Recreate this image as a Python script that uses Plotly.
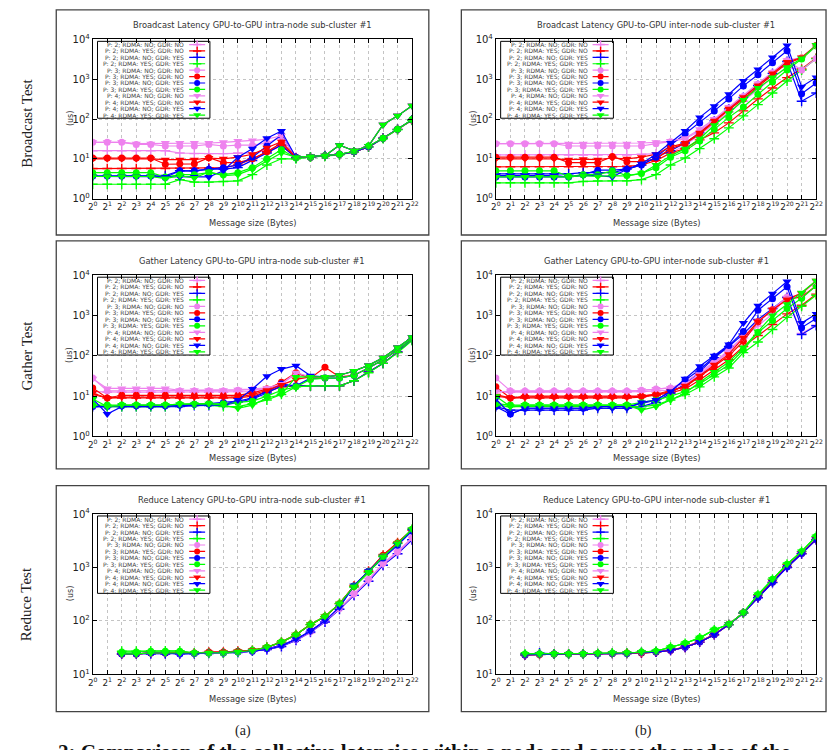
import plotly.graph_objects as go

W, H = 835, 750

# Message sizes as powers of two (exponent on the x axis)
EXPONENTS = list(range(23))
X_TICK_TEXT = [f"2<sup>{n}</sup>" for n in EXPONENTS]
Y_TICKS = [1, 10, 100, 1000, 10000]
Y_TICK_TEXT = ["10<sup>0</sup>", "10<sup>1</sup>", "10<sup>2</sup>", "10<sup>3</sup>", "10<sup>4</sup>"]

SERIES_LABELS = [
    "P: 2; RDMA: NO; GDR: NO", "P: 2; RDMA: YES; GDR: NO", "P: 2; RDMA: NO; GDR: YES", "P: 2; RDMA: YES; GDR: YES",
    "P: 3; RDMA: NO; GDR: NO", "P: 3; RDMA: YES; GDR: NO", "P: 3; RDMA: NO; GDR: YES", "P: 3; RDMA: YES; GDR: YES",
    "P: 4; RDMA: NO; GDR: NO", "P: 4; RDMA: YES; GDR: NO", "P: 4; RDMA: NO; GDR: YES", "P: 4; RDMA: YES; GDR: YES",
]

# ---- Broadcast, intra-node (us)
BI_P2_NN = [16, 16, 16, 16, 16, 16, 14, 13.5, 13.5, 13.5, 14, 14, 16, 22, 11, 11, 12, 13, 15, 20, 33, 55, 95]
BI_P2_YN = [5.7, 5.7, 5.7, 5.7, 5.7, 5.7, 5.8, 5.8, 5.9, 6, 7, 10, 15, 22, 10.5, 11, 12, 13, 15, 20, 33, 55, 95]
BI_P2_NY = [3.7, 3.7, 3.7, 3.7, 3.7, 3.8, 5, 5, 5.5, 5.5, 6, 9, 14, 22, 10.5, 11, 12, 13, 15, 20, 33, 55, 95]
BI_P2_YY = [2.3, 2.3, 2.3, 2.3, 2.3, 2.3, 3.0, 2.6, 2.6, 2.7, 2.8, 4, 7, 10, 10, 11, 11.5, 12.5, 15, 20, 32, 54, 93]
BI_P3_NN = [26, 26, 26, 23, 23, 21, 21, 21, 23, 21, 22, 22, 25, 35, 11, 11, 12, 13, 15, 20, 33, 55, 95]
BI_P3_YN = [10.5, 10.5, 10.5, 10.5, 10.5, 7.3, 7.5, 7.5, 10.7, 8, 8, 10, 15, 25, 11, 11, 12, 13, 15, 20, 33, 55, 95]
BI_P3_NY = [3.7, 3.7, 3.7, 3.7, 3.7, 3.4, 5, 5, 5.5, 6, 7, 11, 21, 40, 11, 11, 12, 13, 15, 20, 33, 55, 96]
BI_P3_YY = [4.5, 4.5, 4.5, 4.5, 4.5, 3.5, 4, 4, 4.5, 4, 4.5, 6, 10, 17, 10.5, 11, 12, 13, 15.5, 21, 33, 55, 97]
BI_P4_NN = [26, 26, 26, 24, 24, 25, 25, 25, 25, 26, 28, 29, 31, 38, 11, 11.5, 12, 22, 16, 21, 72, 120, 215]
BI_P4_YN = [10, 10, 10, 10, 10, 9.5, 9.5, 9.5, 10.5, 10, 11, 13, 19, 27, 11, 11.5, 12, 22, 16, 21, 72, 120, 215]
BI_P4_NY = [3.6, 3.6, 3.6, 3.6, 3.6, 3.5, 3.5, 3.5, 3.5, 5, 11, 18, 33, 50, 11, 11.5, 12, 22, 16, 21, 72, 120, 215]
BI_P4_YY = [3.6, 3.6, 3.6, 3.6, 3.6, 3.2, 3.8, 3.3, 4.7, 3.8, 4, 5.5, 9, 14, 11, 11.5, 12, 22, 16, 21, 72, 120, 215]

# ---- Broadcast, inter-node (us)
BE_P2_NN = [12.5, 12.5, 12.5, 12.5, 12.5, 12.5, 12.5, 12.5, 12.5, 12.5, 13, 13.5, 14, 22, 40, 75, 150, 280, 550, 1100, 2000, 1700, 3300]
BE_P2_YN = [6.3, 6.3, 6.3, 6.3, 6.3, 6.3, 6.3, 6.3, 6.3, 6.5, 7, 9, 14, 18, 30, 45, 80, 160, 320, 600, 1100, 1800, 3400]
BE_P2_NY = [4.2, 4.2, 4.2, 4.2, 4.2, 4.2, 4.5, 4.5, 4.5, 5.5, 7, 11, 16, 25, 45, 90, 180, 350, 700, 1400, 2800, 280, 450]
BE_P2_YY = [2.5, 2.5, 2.5, 2.5, 2.5, 2.5, 2.7, 2.8, 2.8, 2.8, 3, 4, 7, 10.5, 18, 32, 60, 120, 230, 450, 900, 1700, 3300]
BE_P3_NN = [24, 24, 24, 24, 24, 21, 21, 21, 21, 21, 21, 24, 27, 32, 50, 95, 190, 370, 750, 1450, 2900, 1700, 3300]
BE_P3_YN = [11, 11, 11, 11, 11, 8, 8, 8, 11.5, 8.5, 8.5, 10, 18, 24, 42, 85, 170, 320, 650, 1300, 2500, 3400, 7000]
BE_P3_NY = [3.5, 3.5, 3.5, 3.5, 3.5, 3.5, 4, 5.2, 5.2, 5.5, 7, 11, 22, 42, 80, 160, 320, 680, 1300, 2600, 5200, 430, 800]
BE_P3_YY = [5, 5, 5, 5, 5, 3.6, 4, 4, 5, 3.8, 4.3, 6, 11, 16, 28, 55, 110, 200, 420, 850, 1700, 3200, 6800]
BE_P4_NN = [24, 24, 24, 24, 24, 24, 24, 24, 24, 24, 25, 26, 28, 33, 55, 100, 200, 380, 780, 1500, 3000, 3500, 7000]
BE_P4_YN = [10, 10, 10, 10, 10, 9.5, 9.8, 9.5, 10.5, 10, 11, 13, 20, 25, 45, 90, 180, 350, 700, 1400, 2700, 3500, 7200]
BE_P4_NY = [3.8, 3.8, 3.8, 3.8, 3.8, 3.5, 3.8, 3.8, 3.5, 5.5, 7.5, 13, 25, 50, 110, 210, 420, 900, 1750, 3500, 7000, 650, 1100]
BE_P4_YY = [3.5, 3.5, 3.5, 3.5, 3.5, 3.5, 3.8, 3.6, 3.8, 3.7, 4.3, 7, 12, 18, 32, 70, 140, 300, 600, 1100, 2000, 3300, 7200]

# ---- Gather, intra-node (us)
GI_P2_NN = [13, 12.5, 12.5, 12.5, 12.5, 12.5, 12.5, 12.5, 12.5, 12.5, 13, 13, 14, 18, 18, 18, 18, 18, 24, 40, 65, 125, 250]
GI_P2_YN = [11, 9, 9, 9, 9, 9, 9, 9, 9, 9, 9, 10, 13, 17, 18, 18, 18, 18, 24, 40, 65, 125, 250]
GI_P2_NY = [5.5, 5.5, 5.5, 5.5, 5.5, 5.5, 5.5, 5.8, 5.8, 6, 7, 8.5, 12, 18, 18, 18, 18, 18, 24, 40, 65, 125, 250]
GI_P2_YY = [6, 5.5, 5.5, 5.5, 5.5, 5.5, 6, 6, 6, 5.5, 5.5, 6.5, 8, 11, 17, 18, 18, 18, 24, 38, 65, 120, 240]
GI_P3_NN = [28, 13.5, 13.5, 13.5, 13.5, 13.5, 13.5, 13.5, 13.5, 13.5, 14, 14.5, 15, 20, 36, 28, 28, 28, 33, 50, 80, 140, 270]
GI_P3_YN = [16, 9, 10.5, 10.5, 10.5, 10.5, 10.5, 10.5, 10.5, 10.5, 10.5, 12, 15, 22, 38, 28, 52, 30, 33, 50, 80, 140, 270]
GI_P3_NY = [5.5, 5.5, 5.8, 5.8, 5.8, 5.8, 6, 6.3, 6.5, 7, 7.5, 9, 13, 20, 18, 28, 28, 28, 33, 50, 80, 140, 270]
GI_P3_YY = [6, 6, 6, 6, 6, 6, 6.3, 6.3, 6.5, 6.5, 7, 7.5, 10, 14, 17, 26, 28, 28, 33, 50, 80, 140, 270]
GI_P4_NN = [27, 15.5, 15.5, 15.5, 15.5, 15.5, 14, 14, 14, 14, 14.5, 15, 16, 20, 38, 30, 30, 33, 42, 58, 90, 160, 290]
GI_P4_YN = [12, 9, 9.5, 9.5, 9.5, 9.5, 9.5, 9.5, 9.5, 9.5, 9.5, 11, 14, 19, 26, 30, 30, 33, 42, 58, 90, 160, 290]
GI_P4_NY = [8.5, 3.6, 5.5, 5.5, 5.5, 5.5, 5.8, 6, 6, 6, 8, 15, 31, 47, 57, 32, 30, 33, 42, 58, 90, 160, 290]
GI_P4_YY = [8.5, 5.5, 6, 6, 6, 6, 6.3, 6.3, 6.5, 6, 5, 6, 9, 11, 30, 30, 30, 33, 42, 58, 90, 160, 290]

# ---- Gather, inter-node (us)
GE_P2_NN = [13, 12.5, 12.5, 12.5, 12.5, 12.5, 12.5, 12.5, 12.5, 12.5, 13, 13.5, 14, 18, 35, 65, 130, 280, 550, 1100, 3000, 360, 580]
GE_P2_YN = [11, 9, 9, 9, 9, 9, 9, 9, 9, 9, 9.5, 10.5, 12, 15, 25, 45, 80, 170, 320, 600, 1100, 1800, 3400]
GE_P2_NY = [5.5, 4.5, 4.5, 4.5, 4.5, 4.5, 4.5, 5, 5, 5, 5.5, 7, 12, 20, 40, 90, 170, 350, 800, 1500, 2800, 340, 560]
GE_P2_YY = [6, 5.5, 5.5, 5.5, 5.5, 5.5, 5.5, 5.5, 5.5, 5.5, 5.5, 6, 8, 11, 17, 30, 50, 120, 220, 450, 900, 1700, 3200]
GE_P3_NN = [28, 13.5, 13.5, 13.5, 13.5, 13.5, 13.5, 13.5, 13.5, 13.5, 14, 15, 16, 22, 40, 70, 140, 300, 700, 1400, 2900, 2800, 5500]
GE_P3_YN = [17, 9, 10, 10, 10, 10, 10, 10, 10, 10, 10, 11, 14, 17, 30, 55, 100, 230, 700, 1400, 2500, 2900, 5500]
GE_P3_NY = [5.5, 3.6, 5, 5, 5, 5, 5, 5.5, 5.5, 5.5, 6.5, 8, 13, 25, 45, 95, 180, 400, 1350, 2600, 5200, 500, 850]
GE_P3_YY = [6.5, 6, 6, 6, 6, 6, 6, 6, 6, 6, 7, 8, 10, 13, 20, 35, 60, 140, 380, 750, 1500, 2700, 5500]
GE_P4_NN = [13, 13, 13, 13, 13, 13, 13, 13, 13, 13, 14, 15, 16, 20, 35, 65, 120, 280, 700, 1400, 2700, 3500, 7000]
GE_P4_YN = [10, 9, 9.5, 9.5, 9.5, 9.5, 9.5, 9.5, 9.5, 9.5, 10, 11, 13, 18, 32, 60, 110, 280, 700, 1400, 2500, 3600, 7300]
GE_P4_NY = [8.5, 3.6, 5, 5, 5, 5, 5, 5, 5, 5, 7, 8, 13, 27, 55, 100, 190, 650, 1750, 3500, 7000, 650, 1100]
GE_P4_YY = [10, 5.5, 6, 6, 6, 6, 6, 6, 6, 6, 4.5, 5.5, 8, 12, 22, 40, 70, 160, 400, 1000, 1900, 3700, 7300]

# ---- Reduce, intra-node (us); no runs below 4 bytes
RI_P2_NN = [None, None, 24, 24, 24, 24, 24, 24.5, 25, 25, 26, 27, 29, 33, 43, 60, 95, 165, 300, 550, 1100, 1800, 3300]
RI_P2_YN = [None, None, 24, 24, 25, 25, 24.5, 25, 26, 26, 27, 28, 32, 40, 55, 85, 120, 210, 450, 850, 1700, 2900, 5000]
RI_P2_NY = [None, None, 24, 24, 24, 24, 24, 24, 24.5, 25, 25.5, 27, 29, 33, 43, 62, 95, 165, 300, 550, 1100, 1800, 3300]
RI_P2_YY = [None, None, 27, 27, 27.5, 27.5, 27.5, 25, 25, 25, 26, 28, 32, 40, 55, 85, 120, 210, 430, 800, 1600, 2800, 5200]
RI_P3_NN = [None, None, 24, 24, 25, 25, 25, 25, 25, 25, 26, 27, 30, 35, 45, 63, 100, 170, 320, 600, 1200, 2000, 3600]
RI_P3_YN = [None, None, 24, 24, 25, 25, 25, 25, 26, 26, 27, 28, 32, 40, 55, 85, 120, 210, 450, 850, 1700, 2900, 5000]
RI_P3_NY = [None, None, 24, 24, 25, 25, 24, 24.5, 25, 25, 26, 27, 30, 35, 45, 65, 100, 180, 450, 850, 1500, 2600, 4800]
RI_P3_YY = [None, None, 26, 26, 27, 27, 27, 25, 25, 25, 26, 28, 32, 40, 55, 85, 120, 210, 440, 820, 1600, 2800, 5200]
RI_P4_NN = [None, None, 24, 24, 25, 25, 24, 24.5, 25, 25, 26, 27, 29, 34, 44, 62, 98, 170, 310, 580, 1150, 1900, 3500]
RI_P4_YN = [None, None, 24, 24, 25, 25, 25, 25, 25.5, 26, 27, 28, 32, 40, 55, 85, 120, 210, 440, 830, 1650, 2850, 5100]
RI_P4_NY = [None, None, 24, 24, 25, 25, 24, 24.5, 25, 25, 26, 27, 29, 34, 45, 63, 100, 180, 460, 850, 1600, 2700, 4900]
RI_P4_YY = [None, None, 24, 24, 25, 25, 25, 25, 25, 25.5, 26.5, 27.5, 32, 40, 55, 85, 120, 210, 440, 820, 1600, 2800, 5200]

# ---- Reduce, inter-node (us)
RE_P2_NN = [None, None, 23, 23.5, 24, 24, 24, 24, 24.5, 24.5, 25, 26, 28, 32, 40, 55, 85, 140, 270, 520, 1000, 1800, 3300]
RE_P2_YN = [None, None, 23, 23.5, 24, 24, 24, 24, 24.5, 24.5, 25, 26, 28, 32, 40, 55, 85, 140, 275, 530, 1020, 1820, 3350]
RE_P2_NY = [None, None, 23, 25, 24, 24, 24, 24, 24.5, 24.5, 25.5, 26, 28, 32, 40, 55, 85, 140, 270, 520, 1000, 1800, 3300]
RE_P2_YY = [None, None, 24, 24, 24, 24, 24, 24.5, 25, 25, 26, 27, 32, 38, 48, 68, 85, 140, 310, 600, 1150, 2000, 3800]
RE_P3_NN = [None, None, 23, 23.5, 24, 24, 24, 24, 24.5, 24.5, 25, 26, 28, 32, 40, 55, 86, 142, 280, 540, 1050, 1850, 3400]
RE_P3_YN = [None, None, 23, 23.5, 24, 24, 24, 24.5, 24.5, 25, 25, 26, 28, 33, 41, 56, 86, 142, 280, 540, 1050, 1850, 3400]
RE_P3_NY = [None, None, 23, 24, 24, 24, 24, 24, 24.5, 24.5, 25.5, 26, 28, 32, 40, 55, 85, 140, 275, 530, 1020, 1820, 3350]
RE_P3_YY = [None, None, 24, 24, 24, 24, 24, 24.5, 25, 25, 26, 27, 32, 38, 48, 68, 86, 142, 310, 600, 1150, 2000, 3800]
RE_P4_NN = [None, None, 23, 23.5, 24, 24, 24, 24, 24.5, 24.5, 25, 26, 28, 32, 40, 55, 85, 140, 280, 540, 1050, 1850, 3400]
RE_P4_YN = [None, None, 23, 23.5, 24, 24, 24, 24, 24.5, 24.5, 25, 26, 28, 32, 40, 55, 85, 140, 280, 540, 1050, 1850, 3400]
RE_P4_NY = [None, None, 23, 23.5, 24, 24, 24, 24, 24.5, 24.5, 25.5, 26, 28, 32, 40, 55, 85, 140, 275, 530, 1020, 1820, 3350]
RE_P4_YY = [None, None, 24, 24, 24, 24, 24, 24.5, 25, 25, 26, 27, 32, 38, 48, 68, 86, 142, 310, 600, 1150, 2000, 3800]

PANEL_TITLES = [
    "Broadcast Latency GPU-to-GPU intra-node sub-cluster #1",
    "Broadcast Latency GPU-to-GPU inter-node sub-cluster #1",
    "Gather Latency GPU-to-GPU intra-node sub-cluster #1",
    "Gather Latency GPU-to-GPU inter-node sub-cluster #1",
    "Reduce Latency GPU-to-GPU intra-node sub-cluster #1",
    "Reduce Latency GPU-to-GPU inter-node sub-cluster #1",
]
PANEL_SERIES = [
    [BI_P2_NN, BI_P2_YN, BI_P2_NY, BI_P2_YY, BI_P3_NN, BI_P3_YN, BI_P3_NY, BI_P3_YY, BI_P4_NN, BI_P4_YN, BI_P4_NY, BI_P4_YY],
    [BE_P2_NN, BE_P2_YN, BE_P2_NY, BE_P2_YY, BE_P3_NN, BE_P3_YN, BE_P3_NY, BE_P3_YY, BE_P4_NN, BE_P4_YN, BE_P4_NY, BE_P4_YY],
    [GI_P2_NN, GI_P2_YN, GI_P2_NY, GI_P2_YY, GI_P3_NN, GI_P3_YN, GI_P3_NY, GI_P3_YY, GI_P4_NN, GI_P4_YN, GI_P4_NY, GI_P4_YY],
    [GE_P2_NN, GE_P2_YN, GE_P2_NY, GE_P2_YY, GE_P3_NN, GE_P3_YN, GE_P3_NY, GE_P3_YY, GE_P4_NN, GE_P4_YN, GE_P4_NY, GE_P4_YY],
    [RI_P2_NN, RI_P2_YN, RI_P2_NY, RI_P2_YY, RI_P3_NN, RI_P3_YN, RI_P3_NY, RI_P3_YY, RI_P4_NN, RI_P4_YN, RI_P4_NY, RI_P4_YY],
    [RE_P2_NN, RE_P2_YN, RE_P2_NY, RE_P2_YY, RE_P3_NN, RE_P3_YN, RE_P3_NY, RE_P3_YY, RE_P4_NN, RE_P4_YN, RE_P4_NY, RE_P4_YY],
]
ROW_LABELS = ["Broadcast Test", "Gather Test", "Reduce Test"]
COL_CAPTIONS = ["(a)", "(b)"]
FIG_CAPTION = "2: Comparison of the collective latencies within a node and across the nodes of the"

# ---- styling
LINE_COLORS = ["#ee82ee", "#ff0000", "#0000ff", "#00ff00"]   # by (RDMA, GDR) combination
MARKERS = ["cross-thin", "circle", "triangle-down"]          # by process count
MARKER_SIZES = [7, 7, 8]
TEXT_FONT = "DejaVu Sans"
SERIF_FONT = "Liberation Serif"

# pixel geometry of the page
PLOT_X = [(89, 413), (498, 823)]
PLOT_Y = [(33, 195), (273, 437), (516, 679)]
BOX_X = [(52, 430), (463, 833)]
BOX_Y = [(3, 232), (238, 470), (487, 717)]
TITLE_Y = [18, 258, 502]
XLABEL_Y = [220, 459, 704]
ROW_LABEL_Y = [118, 355, 608]


def px(x):
    return x / W


def py(y):
    return 1 - y / H


def marker_style(p, color, size):
    return dict(symbol=MARKERS[p], size=size, color=color,
                line=dict(color=color, width=1.4 if p == 0 else 0))


fig = go.Figure()
annotations = []
shapes = []
layout = {}

# key geometry in fractions of the plot area
LEG_X0, LEG_X1 = 0.015, 0.367
LEG_Y1, LEG_Y0 = 0.988, 0.505
LEG_TEXT_X = 0.293
LEG_LINE = (0.302, 0.352)

for k in range(6):
    row, col = divmod(k, 2)
    sfx = "" if k == 0 else str(k + 1)
    leg_sfx = str(k + 7)
    x0, x1 = PLOT_X[col]
    y0, y1 = PLOT_Y[row]
    is_reduce = row == 2

    for i, ys in enumerate(PANEL_SERIES[k]):
        color = LINE_COLORS[i % 4]
        p = i // 4
        fig.add_trace(go.Scatter(
            x=EXPONENTS, y=ys, xaxis="x" + sfx, yaxis="y" + sfx,
            mode="lines+markers", showlegend=False, hoverinfo="skip",
            line=dict(color=color, width=1.2),
            marker=marker_style(p, color, MARKER_SIZES[p]),
        ))

    # in-plot key box (gnuplot style: text on the left, sample on the right)
    fig.add_trace(go.Scatter(
        x=[LEG_X0, LEG_X1, LEG_X1, LEG_X0, LEG_X0], y=[LEG_Y0, LEG_Y0, LEG_Y1, LEG_Y1, LEG_Y0],
        xaxis="x" + leg_sfx, yaxis="y" + leg_sfx, mode="lines", fill="toself",
        fillcolor="white", line=dict(color="black", width=1), showlegend=False, hoverinfo="skip",
    ))
    row_h = (LEG_Y1 - LEG_Y0) / 12
    mid = (LEG_LINE[0] + LEG_LINE[1]) / 2
    for i, label in enumerate(SERIES_LABELS):
        color = LINE_COLORS[i % 4]
        p = i // 4
        yc = LEG_Y1 - (i + 0.5) * row_h
        fig.add_trace(go.Scatter(
            x=[LEG_LINE[0], LEG_LINE[1]], y=[yc, yc],
            xaxis="x" + leg_sfx, yaxis="y" + leg_sfx, mode="lines",
            showlegend=False, hoverinfo="skip", line=dict(color=color, width=1.2),
        ))
        fig.add_trace(go.Scatter(
            x=[mid], y=[yc], xaxis="x" + leg_sfx, yaxis="y" + leg_sfx, mode="markers",
            showlegend=False, hoverinfo="skip", marker=marker_style(p, color, MARKER_SIZES[p] - 1),
        ))
        annotations.append(dict(
            x=LEG_TEXT_X, y=yc, xref="x" + leg_sfx, yref="y" + leg_sfx,
            text=label, showarrow=False, xanchor="right", yanchor="middle",
            font=dict(family=TEXT_FONT, size=6, color="#444"),
        ))

    layout["xaxis" + sfx] = dict(
        domain=[px(x0), px(x1)], anchor="y" + sfx, range=[0, 22],
        tickmode="array", tickvals=EXPONENTS, ticktext=X_TICK_TEXT,
        tickfont=dict(family=TEXT_FONT, size=8.8, color="#222"), tickangle=0,
        ticks="inside", ticklen=4, tickcolor="black", mirror="ticks",
        showline=True, linecolor="black", linewidth=1,
        showgrid=True, gridcolor="#c4c4c4", griddash="dot", gridwidth=1, zeroline=False,
    )
    layout["yaxis" + sfx] = dict(
        domain=[py(y1), py(y0)], anchor="x" + sfx, type="log",
        range=[1, 4] if is_reduce else [0, 4],
        tickmode="array", tickvals=Y_TICKS[1:] if is_reduce else Y_TICKS,
        ticktext=Y_TICK_TEXT[1:] if is_reduce else Y_TICK_TEXT,
        tickfont=dict(family=TEXT_FONT, size=10, color="#222"),
        ticks="inside", ticklen=4, tickcolor="black", mirror="ticks",
        showline=True, linecolor="black", linewidth=1,
        showgrid=True, gridcolor="#c4c4c4", griddash="dot", gridwidth=1, zeroline=False,
    )
    layout["xaxis" + leg_sfx] = dict(overlaying="x" + sfx, anchor="y" + leg_sfx, range=[0, 1],
                                     visible=False, fixedrange=True)
    layout["yaxis" + leg_sfx] = dict(overlaying="y" + sfx, anchor="x" + leg_sfx, range=[0, 1],
                                     visible=False, fixedrange=True)

    cx = (x0 + x1) / 2
    annotations.append(dict(x=px(cx), y=py(TITLE_Y[row]), xref="paper", yref="paper",
                            text=PANEL_TITLES[k], showarrow=False, xanchor="center", yanchor="middle",
                            font=dict(family=TEXT_FONT, size=8.3, color="#333")))
    annotations.append(dict(x=px(cx), y=py(XLABEL_Y[row]), xref="paper", yref="paper",
                            text="Message size (Bytes)", showarrow=False, xanchor="center", yanchor="middle",
                            font=dict(family=TEXT_FONT, size=8.3, color="#333")))
    annotations.append(dict(x=px(x0 - 23), y=py((y0 + y1) / 2), xref="paper", yref="paper",
                            text="(us)", textangle=-90, showarrow=False, xanchor="center", yanchor="middle",
                            font=dict(family=TEXT_FONT, size=8, color="#333")))

    bx0, bx1 = BOX_X[col]
    by0, by1 = BOX_Y[row]
    shapes.append(dict(type="rect", xref="paper", yref="paper",
                       x0=px(bx0), x1=px(bx1), y0=py(by1), y1=py(by0),
                       line=dict(color="#444", width=1.3), layer="below"))

for r, label in enumerate(ROW_LABELS):
    annotations.append(dict(x=px(22), y=py(ROW_LABEL_Y[r]), xref="paper", yref="paper",
                            text=label, textangle=-90, showarrow=False, xanchor="center", yanchor="middle",
                            font=dict(family=SERIF_FONT, size=15, color="#222")))
for c, cap in enumerate(COL_CAPTIONS):
    cx = (BOX_X[c][0] + BOX_X[c][1]) / 2
    annotations.append(dict(x=px(cx), y=py(737), xref="paper", yref="paper",
                            text=cap, showarrow=False, xanchor="center", yanchor="middle",
                            font=dict(family=SERIF_FONT, size=14, color="#222")))
# figure caption line, running off the bottom edge of the page
annotations.append(dict(x=px(52), y=py(758), xref="paper", yref="paper",
                        text="<b>" + FIG_CAPTION + "</b>", showarrow=False, xanchor="left", yanchor="middle",
                        font=dict(family=SERIF_FONT, size=21, color="#111")))

fig.update_layout(
    width=W, height=H, margin=dict(l=0, r=0, t=0, b=0),
    paper_bgcolor="white", plot_bgcolor="white",
    showlegend=False, annotations=annotations, shapes=shapes,
    **layout,
)

fig.write_html("out.html")
